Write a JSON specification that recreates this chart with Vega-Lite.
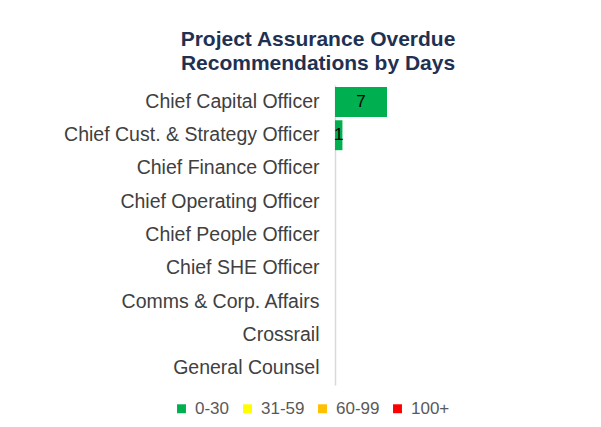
{
  "$schema": "https://vega.github.io/schema/vega-lite/v6.json",
  "autosize": {"type": "none"},
  "width": 260,
  "height": 300,
  "padding": {"left": 335, "top": 85, "right": 6, "bottom": 42},
  "background": "white",
  "config": {
    "view": {"stroke": null},
    "font": "Liberation Sans"
  },
  "title": {
    "text": ["Project Assurance Overdue", "Recommendations  by Days"],
    "anchor": "middle",
    "dx": -147,
    "offset": 11,
    "fontSize": 21,
    "lineHeight": 24,
    "fontWeight": "bold",
    "color": "#1f3152",
    "font": "Liberation Sans"
  },
  "data": {
    "values": [
      {"officer": "Chief Capital Officer", "bucket": "0-30", "count": 7},
      {"officer": "Chief Cust. & Strategy Officer", "bucket": "0-30", "count": 1}
    ]
  },
  "encoding": {
    "y": {
      "field": "officer",
      "type": "nominal",
      "sort": null,
      "scale": {
        "domain": ["Chief Capital Officer", "Chief Cust. & Strategy Officer", "Chief Finance Officer", "Chief Operating Officer", "Chief People Officer", "Chief SHE Officer", "Comms & Corp. Affairs", "Crossrail", "General Counsel"],
        "paddingInner": 0.1,
        "paddingOuter": 0.06
      },
      "axis": {
        "title": null,
        "ticks": false,
        "grid": false,
        "domainColor": "#d9d9d9",
        "domainWidth": 1.5,
        "labelFontSize": 19.5,
        "labelColor": "#404040",
        "labelPadding": 16,
        "labelFont": "Liberation Sans",
        "labelLimit": 400
      }
    }
  },
  "layer": [
    {
      "mark": {"type": "bar"},
      "encoding": {
        "x": {
          "field": "count",
          "type": "quantitative",
          "stack": "zero",
          "scale": {"domain": [0, 35], "nice": false},
          "axis": null
        },
        "color": {
          "field": "bucket",
          "type": "nominal",
          "scale": {
            "domain": ["0-30", "31-59", "60-99", "100+"],
            "range": ["#00b050", "#ffff00", "#ffc000", "#ff0000"]
          },
          "legend": {
            "title": null,
            "orient": "none",
            "direction": "horizontal",
            "legendX": -162,
            "legendY": 315,
            "symbolType": "square",
            "symbolSize": 80,
            "symbolStrokeWidth": 0,
            "labelFontSize": 17,
            "labelColor": "#595959",
            "labelFont": "Liberation Sans",
            "labelOffset": 5,
            "columnPadding": 9,
            "padding": 0
          }
        }
      }
    },
    {
      "mark": {"type": "text", "fontSize": 17, "color": "#000000", "baseline": "middle", "align": "center", "font": "Liberation Sans"},
      "encoding": {
        "x": {
          "field": "count",
          "type": "quantitative",
          "scale": {"domain": [0, 70], "nice": false},
          "axis": null
        },
        "text": {"field": "count", "type": "quantitative"}
      }
    }
  ],
  "resolve": {"scale": {"x": "independent"}}
}
